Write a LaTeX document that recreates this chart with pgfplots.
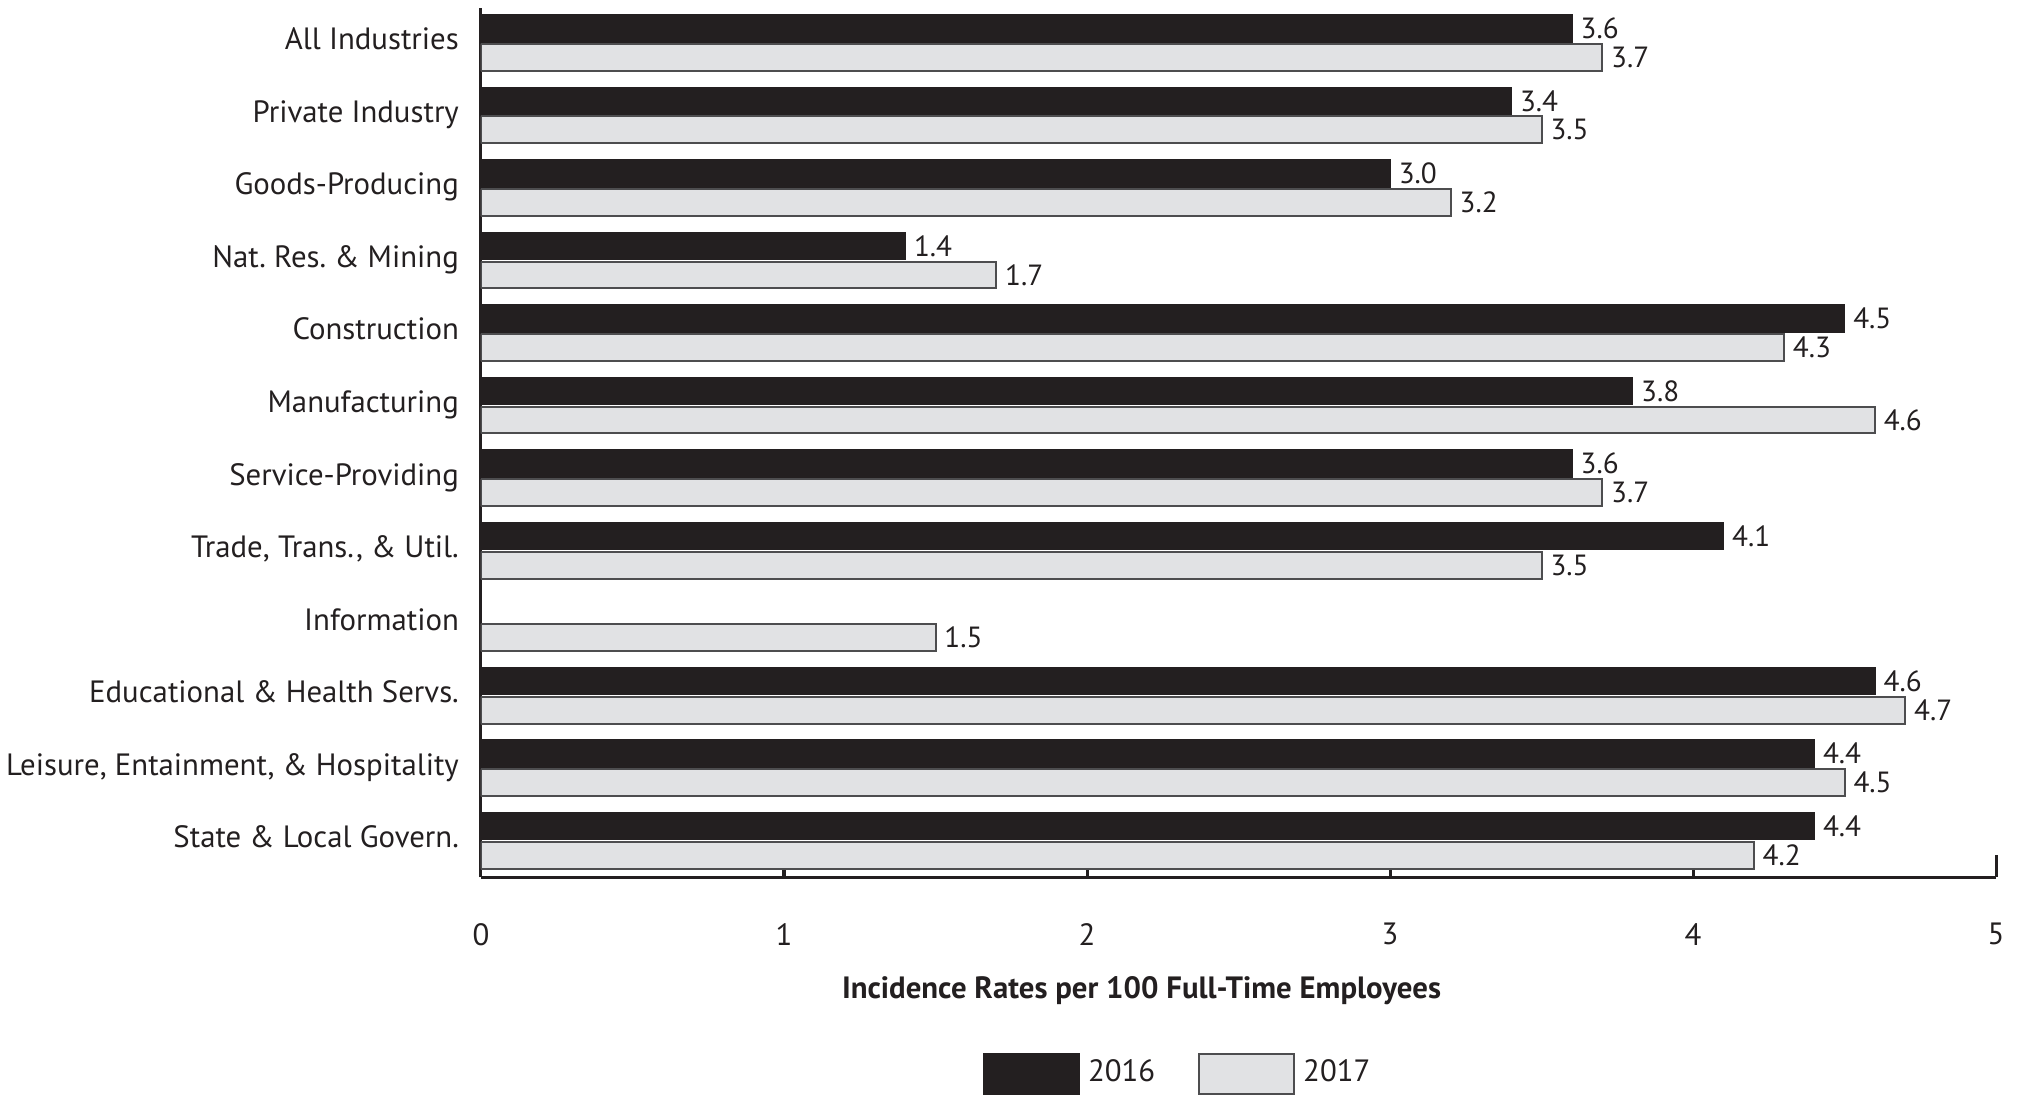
\documentclass[border=0pt]{standalone}
\usepackage{pgfplots}
\pgfplotsset{compat=1.18}
\usepackage{fontspec}
\setmainfont{PT Sans}
\frenchspacing
\definecolor{c16}{HTML}{231F20}
\definecolor{c17}{HTML}{E1E2E4}
\definecolor{e17}{HTML}{4D4D4F}
\newcommand{\fs}{\fontsize{7.7pt}{9.2pt}\selectfont}
\begin{document}
\begin{tikzpicture}
\useasboundingbox (-120.25pt,-54.75pt) rectangle (385.25pt,219.25pt);
\begin{axis}[
  at={(0pt,0pt)}, anchor=south west,
  scale only axis,
  width=378.75pt, height=217.25pt,
  xmin=0, xmax=5, ymin=-0.5, ymax=11.48,
  axis x line*=bottom, axis y line*=left,
  axis line style={line width=0.75pt, color=c16},
  xtick={0,1,2,3,4,5},
  extra x ticks={5}, extra x tick labels={},
  extra x tick style={major tick length=5.5pt, tick style={line width=0.75pt}},
  tick align=inside,
  major tick length=2pt,
  xtick style={line width=0.75pt, color=c16},
  ytick={0,...,11},
  yticklabels={State \& Local Govern.,{Leisure, Entainment, \& Hospitality},Educational \& Health Servs.,Information,{Trade, Trans., \& Util.},Service-Providing,Manufacturing,Construction,Nat. Res. \& Mining,Goods-Producing,Private Industry,All Industries},
  ytick style={draw=none},
  yticklabel style={font=\fs, anchor=base east, xshift=0pt, yshift=-1.75pt, text=c16},
  xticklabel style={font=\fs, yshift=-8pt, text=c16},
  /pgf/number format/assume math mode=true,
  xlabel={\bfseries Incidence Rates per 100 Full-Time Employees},
  xlabel style={font=\fs, at={(axis description cs:0.436,-0.131)}, anchor=center, text=c16},
  xbar, bar width=0.37,
  nodes near coords={\pgfmathprintnumber[fixed,fixed zerofill,precision=1]{\pgfplotspointmeta}},
  nodes near coords style={font=\fontsize{7.3pt}{8.8pt}\selectfont, text=c16, anchor=west, inner sep=2pt},
  legend style={draw=none, font=\fs, at={(axis description cs:0.462,-0.2267)}, anchor=center, legend columns=2,
    /tikz/every even column/.append style={column sep=8.75pt}, text=c16},
  legend image code/.code={\draw[#1] (0pt,-5pt) rectangle (23.75pt,5pt);},
]
\addplot[fill=c16, draw=c16, bar shift=0.2] coordinates {
 (3.6,11) (3.4,10) (3.0,9) (1.4,8) (4.5,7) (3.8,6) (3.6,5) (4.1,4) (4.6,2) (4.4,1) (4.4,0)};
\addlegendentry{2016}
\addplot[fill=c17, draw=e17, line width=0.5pt, bar shift=-0.2] coordinates {
 (3.7,11) (3.5,10) (3.2,9) (1.7,8) (4.3,7) (4.6,6) (3.7,5) (3.5,4) (1.5,3) (4.7,2) (4.5,1) (4.2,0)};
\addlegendentry{2017}
\end{axis}
\end{tikzpicture}
\end{document}
